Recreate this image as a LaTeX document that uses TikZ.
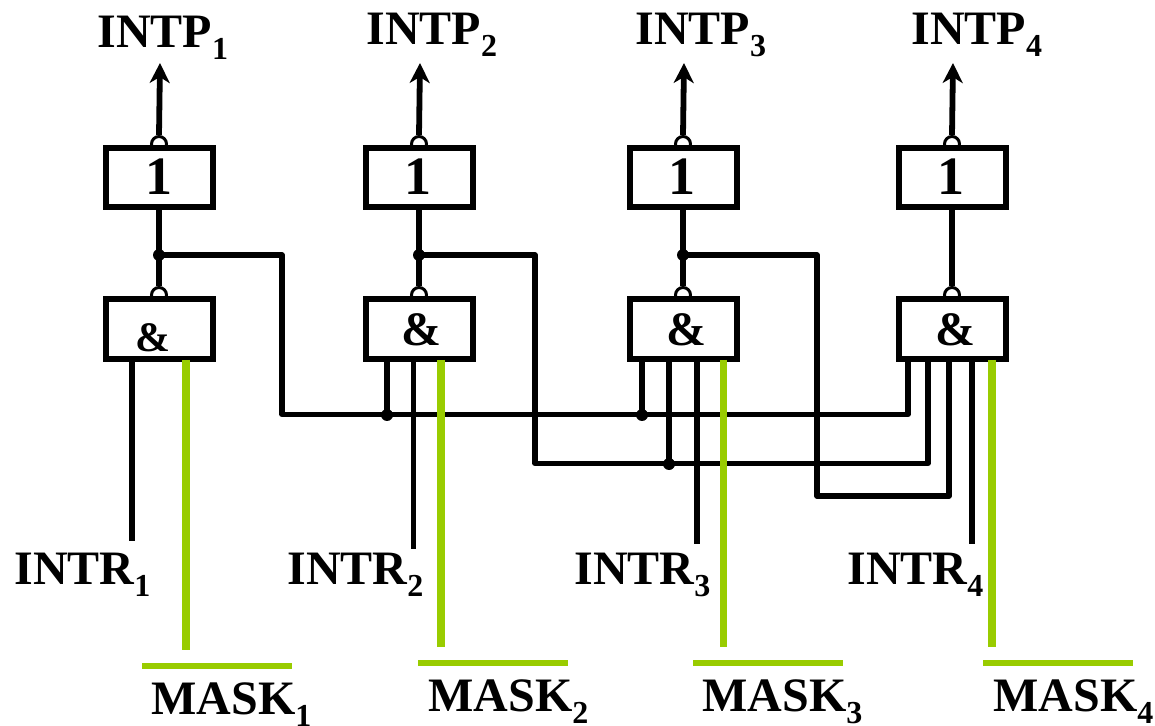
\documentclass[tikz,border=0pt]{standalone}
\usepackage{fontspec}
\setmainfont{Liberation Serif}
\usetikzlibrary{arrows.meta}
\definecolor{maskgreen}{HTML}{99CC00}
\newcommand{\lblsub}[2]{#1\raisebox{-6pt}{\fontsize{16}{16}\selectfont #2}}
\newcommand{\gtext}[3]{\makebox[0pt]{\kern #1\relax\raisebox{#2}{#3}}}
\tikzset{
  gate/.style={draw=black,fill=white,line width=3pt,minimum width=53.5pt,minimum height=29.5pt,inner sep=0pt,text height=0pt,text depth=0pt,font=\bfseries},
  bubble/.style={circle,draw=black,fill=white,line width=1.5pt,minimum size=7.5pt,inner sep=0pt},
  junction/.style={circle,fill=black,minimum size=6pt,inner sep=0pt},
  wire/.style={draw=black,line width=2.7pt,line join=round},
  stem/.style={draw=black,line width=2.8pt},
  inwire/.style={draw=black,line width=2.6pt},
  outarrow/.style={draw=black,line width=2.9pt,-{Stealth[length=10pt,width=10pt,inset=3pt]}},
  maskline/.style={draw=maskgreen,line width=3.6pt},
  maskbar/.style={draw=maskgreen,line width=3pt},
  txt/.style={anchor=base west,inner sep=0pt,font=\fontsize{24}{24}\selectfont\bfseries}
}
\begin{document}
\begin{tikzpicture}[x=0.5pt,y=-0.5pt]
\useasboundingbox (0,0) rectangle (1155,726);
% bubbles first, boxes overlap them
\foreach \n/\x in {1/159,2/419,3/683,4/952}{
  \node[bubble] (bo\n) at (\x,144) {};
  \node[bubble] (ba\n) at (\x,295) {};
}
\node[gate] (or1) at (159,177.5) {\fontsize{27}{27}\selectfont\gtext{-0.5pt}{-8.5pt}{1}};
\node[gate] (or2) at (419,177.5) {\fontsize{27}{27}\selectfont\gtext{-1.5pt}{-8.5pt}{1}};
\node[gate] (or3) at (683,177.5) {\fontsize{27}{27}\selectfont\gtext{-1.5pt}{-8.5pt}{1}};
\node[gate] (or4) at (952,177.5) {\fontsize{27}{27}\selectfont\gtext{-1.5pt}{-8.5pt}{1}};
\node[gate,minimum height=30pt] (and1) at (159,329.5) {\fontsize{21}{21}\selectfont\gtext{-6pt}{-11.25pt}{\&}};
\node[gate,minimum height=30pt] (and2) at (419,329.5) {\fontsize{24}{24}\selectfont\gtext{2pt}{-8.25pt}{\&}};
\node[gate,minimum height=30pt] (and3) at (683,329.5) {\fontsize{24}{24}\selectfont\gtext{3pt}{-8.25pt}{\&}};
\node[gate,minimum height=30pt] (and4) at (952,329.5) {\fontsize{24}{24}\selectfont\gtext{3pt}{-8.25pt}{\&}};
% labels
\node[txt] (p1) at (97,48) {\lblsub{INTP}{1}};
\node[txt] (p2) at (366,45) {\lblsub{INTP}{2}};
\node[txt] (p3) at (635,45) {\lblsub{INTP}{3}};
\node[txt] (p4) at (911,45) {\lblsub{INTP}{4}};
\node[txt] (r1) at (14,584) {\lblsub{INTR}{1}};
\node[txt] (r2) at (287,584) {\lblsub{INTR}{2}};
\node[txt] (r3) at (574,584) {\lblsub{INTR}{3}};
\node[txt] (r4) at (847,584) {\lblsub{INTR}{4}};
\node[txt] (m1) at (151,714) {\lblsub{MASK}{1}};
\node[txt] (m2) at (428,711) {\lblsub{MASK}{2}};
\node[txt] (m3) at (702,711) {\lblsub{MASK}{3}};
\node[txt] (m4) at (993,711) {\lblsub{MASK}{4}};
% junctions
\node[junction] (j1) at (159,255) {};
\node[junction] (j2) at (419,255) {};
\node[junction] (j3) at (683,255) {};
\node[junction] (k1) at (387,415) {};
\node[junction] (k2) at (642,415) {};
\node[junction] (k3) at (669,464) {};
% outputs
\coordinate (t1) at (160,63);
\coordinate (t2) at (420,63);
\coordinate (t3) at (684,63);
\coordinate (t4) at (953,63);
\foreach \n in {1,2,3,4}{
  \draw[outarrow] (bo\n.north) -- (t\n);
  \draw[stem] (or\n.south) -- (ba\n.north);
}
% cross wiring
\draw[wire] (j1.center) -- (282,255) -- (282,414.5) -- (908,414.5) -- (908,362);
\draw[wire] (j2.center) -- (535,255) -- (535,463.5) -- (928,463.5) -- (928,362);
\draw[wire] (j3.center) -- (817,255) -- (817,496) -- (949,496) -- (949,362);
\draw[wire] (k1.center) -- (387,362);
\draw[wire] (k2.center) -- (642,362);
% INTR inputs
\draw[inwire] (132,362) -- (132,541);
\draw[inwire] (413.5,362) -- (413.5,549);
\draw[inwire] (669,362) -- (k3.center);
\draw[inwire] (697,362) -- (697,544);
\draw[inwire] (972,362) -- (972,544);
% mask inputs
\draw[maskline] (186,360) -- (186,650);
\draw[maskline] (441,360) -- (441,647);
\draw[maskline] (723.5,360) -- (723.5,647);
\draw[maskline] (992,360) -- (992,647);
\draw[maskbar] (142,666) -- (292,666);
\draw[maskbar] (418,663) -- (568,663);
\draw[maskbar] (693,663) -- (843,663);
\draw[maskbar] (983,663) -- (1133,663);
\end{tikzpicture}
\end{document}
